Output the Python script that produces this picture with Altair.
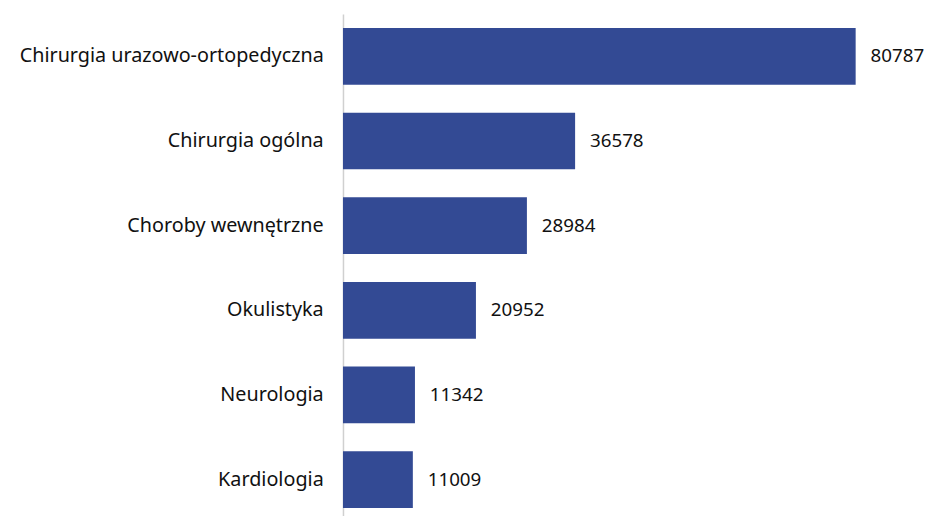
import altair as alt
import pandas as pd

categories = ["Chirurgia urazowo-ortopedyczna", "Chirurgia ogólna", "Choroby wewnętrzne",
              "Okulistyka", "Neurologia", "Kardiologia"]
values = [80787, 36578, 28984, 20952, 11342, 11009]

df = pd.DataFrame({"oddzial": categories, "liczba": values})

FONT = "Noto Sans"
COLOR = "#334a94"

base = alt.Chart(df).encode(
    y=alt.Y("oddzial:N", sort=categories,
            scale=alt.Scale(paddingInner=0.33, paddingOuter=0.165),
            axis=alt.Axis(title=None, ticks=False, domain=True, domainColor="#d0d0d0",
                          domainWidth=1.5, labelFont=FONT, labelFontSize=20,
                          labelColor="#111111", labelPadding=20, labelLimit=400)),
    x=alt.X("liczba:Q", scale=alt.Scale(domain=[0, 90000], nice=False),
            axis=None),
)

bars = base.mark_bar(color=COLOR)
text = base.mark_text(align="left", baseline="middle", dx=15, font=FONT,
                      fontSize=19, color="#111111").encode(text="liczba:Q")

chart = (bars + text).properties(
    width=578, height=514,
    autosize=alt.AutoSizeParams(type="none"),
    padding={"left": 339, "top": 3, "right": 10, "bottom": 0},
).configure_view(stroke=None).configure_axis(grid=False)

chart.save("out.html", embed_options={"renderer": "svg", "actions": False})
